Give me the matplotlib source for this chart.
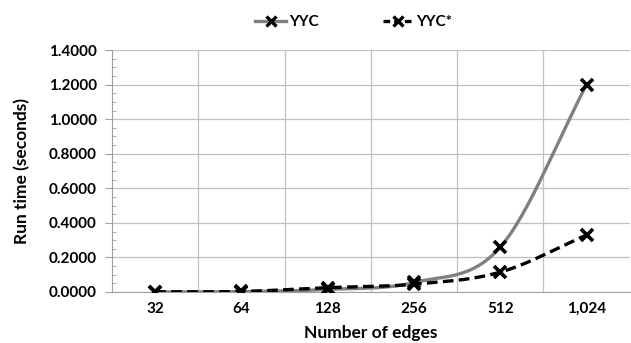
import numpy as np
import matplotlib.pyplot as plt
from matplotlib.ticker import MultipleLocator

edges = ["32", "64", "128", "256", "512", "1,024"]
yyc = [0.0005, 0.002, 0.015, 0.055, 0.26, 1.2]
yyc_star = [0.001, 0.003, 0.025, 0.045, 0.115, 0.33]

plt.rcParams["font.family"] = ["Lato", "DejaVu Sans"]
plt.rcParams["font.weight"] = "bold"


def smooth(xs, ys, n=30):
    # Catmull-Rom curve through the points, like Excel's smoothed line
    xs = np.asarray(xs, float)
    ys = np.asarray(ys, float)
    px = np.concatenate([[2 * xs[0] - xs[1]], xs, [2 * xs[-1] - xs[-2]]])
    py = np.concatenate([[2 * ys[0] - ys[1]], ys, [2 * ys[-1] - ys[-2]]])
    out_x, out_y = [], []
    t = np.linspace(0, 1, n)
    for i in range(1, len(px) - 2):
        for p, out in ((px, out_x), (py, out_y)):
            p0, p1, p2, p3 = p[i - 1], p[i], p[i + 1], p[i + 2]
            seg = 0.5 * ((2 * p1) + (-p0 + p2) * t
                         + (2 * p0 - 5 * p1 + 4 * p2 - p3) * t ** 2
                         + (-p0 + 3 * p1 - 3 * p2 + p3) * t ** 3)
            out.extend(seg)
    return np.array(out_x), np.array(out_y)


fig = plt.figure(figsize=(6.31, 3.43), dpi=100)
ax = fig.add_axes([0.1775, 0.1487, 0.8205, 0.7053])

x = np.arange(len(edges))
sx, sy = smooth(x, yyc)
ax.plot(sx, sy, color="#808080", lw=2.4, zorder=3)
ax.plot(x, yyc, ls="none", marker="x", ms=9, mew=2.6, color="black", zorder=4)
sx, sy = smooth(x, yyc_star)
ax.plot(sx, sy, color="black", lw=2.4, ls=(0, (3.2, 1.6)), zorder=3)
ax.plot(x, yyc_star, ls="none", marker="x", ms=9, mew=2.6, color="black", zorder=4)

ax.set_xlim(-0.5, len(edges) - 0.5)
ax.set_ylim(0, 1.4)
ax.set_xticks(x)
ax.set_xticklabels(edges)
ax.yaxis.set_major_locator(MultipleLocator(0.2))
ax.yaxis.set_minor_locator(MultipleLocator(0.05))
ax.yaxis.set_major_formatter(plt.FuncFormatter(lambda v, p: f"{v:.4f}"))

ax.set_xticks(np.arange(0.5, len(edges) - 0.5), minor=True)
ax.grid(True, which="major", axis="y", color="#c0c0c0", lw=0.9)
ax.grid(True, which="minor", axis="x", color="#c0c0c0", lw=0.9)
ax.set_axisbelow(True)

for s in ["top", "right"]:
    ax.spines[s].set_visible(False)
ax.spines["left"].set_color("#a0a0a0")
ax.spines["bottom"].set_color("#a0a0a0")
ax.tick_params(axis="x", which="both", length=0, labelsize=11, pad=7)
ax.tick_params(axis="y", which="major", length=5, color="#a0a0a0", labelsize=11, pad=6)
ax.tick_params(axis="y", which="minor", length=3, direction="in", color="#a0a0a0")

ax.set_xlabel("Number of edges", fontsize=12.5, fontweight="bold", labelpad=7)
ax.set_ylabel("Run time (seconds)", fontsize=12.5, fontweight="bold", labelpad=13)

h1, = ax.plot([], [], color="#808080", lw=2.4, marker="x", ms=7, mew=2.4, mec="black")
h2, = ax.plot([], [], color="black", lw=2.4, ls=(0, (2, 1.2)), marker="x", ms=7, mew=2.4)
fig.legend([h1, h2], ["YYC", "YYC*"], loc="upper center", bbox_to_anchor=(0.561, 0.995),
           ncol=2, frameon=False, fontsize=11, handlelength=2.0, columnspacing=4.2,
           handletextpad=0.2)

fig.savefig("out.png", dpi=100)
